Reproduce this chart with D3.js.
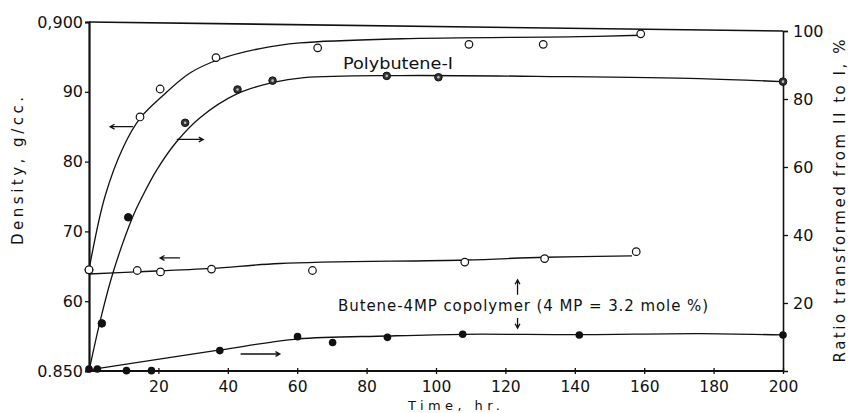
<!DOCTYPE html>
<meta charset="utf-8">
<style>
  body { margin: 0; background: #fff; }
  svg text { font-family: "DejaVu Sans", sans-serif; fill: #111; }
  .axis path, .axis line { stroke: #111; }
  .curve { fill: none; stroke: #111; stroke-width: 1.3px; }
</style>
<script src="https://d3js.org/d3.v7.min.js"></script>
<div id="chart"></div>
<script>
// ---- data ----
// Polybutene-I, density (open circles, left axis)
var pbDenTime = [0, 14.7, 20.5, 36.6, 65.9, 109.5, 130.9, 159];
var pbDensity = [0.8645, 0.8864, 0.8904, 0.8949, 0.8963, 0.8968, 0.8968, 0.8983];
// Polybutene-I, ratio II -> I (filled / half filled, right axis)
var pbRatTime = [3.7, 11.3, 27.7, 42.8, 52.9, 85.8, 100.7, 200];
var pbRatio   = [14.0, 45.2, 73.0, 82.8, 85.4, 86.8, 86.4, 85.1];
var pbRatKind = ["solid", "solid", "half", "half", "half", "half", "half", "half"];
// Butene-4MP copolymer, density (open circles, left axis)
var coDenTime = [0, 13.9, 20.6, 35.3, 64.4, 108.3, 131.3, 157.7];
var coDensity = [0.8645, 0.8644, 0.8642, 0.8646, 0.8644, 0.8656, 0.8661, 0.8671];
// Butene-4MP copolymer, ratio (filled circles, right axis)
var coRatTime = [0, 2.4, 10.8, 18, 37.7, 60.1, 70.2, 86, 107.7, 141.3, 200];
var coRatio   = [0.6, 0.6, 0.1, 0.1, 6.0, 10.1, 8.4, 9.9, 10.8, 10.6, 10.6];

// hand drawn fitted curves (knots)
var pbDenCurveT = [0, 4.6, 9.9, 14.7, 20.5, 29.1, 37.8, 49.3, 60.8, 90, 141.5, 159];
var pbDenCurveV = [0.8645, 0.8750, 0.8821, 0.8862, 0.8891, 0.8927, 0.8947, 0.8962, 0.8970, 0.8976, 0.8979, 0.8981];
var pbRatCurveT = [0, 3.4, 7.0, 12.7, 15.2, 19.5, 25.3, 32.0, 42.6, 53.1, 62, 89.6, 135.7, 176, 200];
var pbRatCurveV = [0, 15.5, 29.2, 45.6, 51.0, 59.1, 67.5, 74.5, 81.5, 84.9, 86.3, 86.9, 86.6, 86.0, 85.1];
var coDenCurveT = [0, 13.7, 35.4, 55, 108.4, 131.4, 156.5];
var coDenCurveV = [0.8639, 0.8642, 0.8647, 0.8654, 0.8659, 0.8663, 0.8665];
var coRatCurveT = [0, 37.8, 60, 86, 108, 141.5, 176, 200];
var coRatCurveV = [0.3, 6.2, 9.4, 10.3, 10.8, 10.7, 11.0, 10.6];

// ticks
var xTicks = [20, 40, 60, 80, 100, 120, 140, 160, 180, 200];
var leftTicks = [0.85, 0.86, 0.87, 0.88, 0.89, 0.90];
var leftLabels = ["0.850", "60", "70", "80", "90", "0,900"];
var rightTicks = [20, 40, 60, 80, 100];

var W = 848, H = 413;
var svg = d3.select("#chart").append("svg")
  .attr("width", W).attr("height", H);

var x = d3.scaleLinear().domain([0, 200]).range([89, 783]);
var yL = d3.scaleLinear().domain([0.85, 0.90]).range([371, 22]);
var yR = d3.scaleLinear().domain([0, 100]).range([371, 31]);

// ---- axes ----
var gx = svg.append("g").attr("class", "axis")
  .attr("transform", "translate(0," + yL(0.85) + ")")
  .call(d3.axisBottom(x).tickValues(xTicks).tickSizeOuter(0).tickSize(3).tickPadding(0));
gx.select(".domain").attr("stroke-width", 2).attr("d", "M" + x(0) + ",0H" + x(200));
gx.selectAll(".tick line").attr("y1", -3).attr("y2", 3).attr("stroke-width", 1.3);
gx.selectAll(".tick text").attr("y", 10).attr("font-size", 15.5);

var gl = svg.append("g").attr("class", "axis")
  .attr("transform", "translate(" + x(0) + ",0)")
  .call(d3.axisLeft(yL).tickValues(leftTicks).tickFormat(function (d, i) { return leftLabels[i]; })
    .tickSizeOuter(0).tickSize(4).tickPadding(2));
gl.select(".domain").attr("stroke-width", 2.2);
gl.selectAll(".tick line").attr("stroke-width", 1.3);
gl.selectAll(".tick text").attr("font-size", 16);

var gr = svg.append("g").attr("class", "axis")
  .attr("transform", "translate(" + x(200) + ",0)")
  .call(d3.axisRight(yR).tickValues(rightTicks).tickSizeOuter(0).tickSize(5).tickPadding(5));
gr.select(".domain").attr("stroke-width", 1.6);
gr.selectAll(".tick line").attr("stroke-width", 1.3);
gr.selectAll(".tick text").attr("font-size", 16);

// top frame line (slightly skewed in the scan)
svg.append("line")
  .attr("x1", x(0)).attr("y1", yL(0.90))
  .attr("x2", x(200)).attr("y2", yR(100))
  .attr("stroke", "#111").attr("stroke-width", 1.6);

// axis titles
svg.append("text")
  .attr("transform", "translate(23,171) rotate(-90)")
  .attr("text-anchor", "middle")
  .attr("font-size", 15)
  .attr("textLength", 148).attr("lengthAdjust", "spacing")
  .text("Density, g/cc.");

svg.append("text")
  .attr("transform", "translate(845,201) rotate(-90)")
  .attr("text-anchor", "middle")
  .attr("font-size", 15)
  .attr("textLength", 323).attr("lengthAdjust", "spacing")
  .text("Ratio transformed from II to I, %");

svg.append("text")
  .attr("x", 408).attr("y", 409.5)
  .attr("font-size", 13)
  .attr("textLength", 92).attr("lengthAdjust", "spacing")
  .text("Time, hr.");

// ---- curves ----
function zip(a, b) { return a.map(function (v, i) { return [v, b[i]]; }); }
var lineL = d3.line().x(function (d) { return x(d[0]); }).y(function (d) { return yL(d[1]); })
  .curve(d3.curveCatmullRom.alpha(0.5));
var lineR = d3.line().x(function (d) { return x(d[0]); }).y(function (d) { return yR(d[1]); })
  .curve(d3.curveCatmullRom.alpha(0.5));

svg.append("path").attr("class", "curve").attr("d", lineL(zip(pbDenCurveT, pbDenCurveV)));
svg.append("path").attr("class", "curve").attr("d", lineR(zip(pbRatCurveT, pbRatCurveV)));
svg.append("path").attr("class", "curve").attr("d", lineL(zip(coDenCurveT, coDenCurveV)));
svg.append("path").attr("class", "curve").attr("d", lineR(zip(coRatCurveT, coRatCurveV)));

// ---- points ----
function openDots(t, v) {
  svg.append("g").selectAll("circle").data(zip(t, v)).enter().append("circle")
    .attr("cx", function (d) { return x(d[0]); })
    .attr("cy", function (d) { return yL(d[1]); })
    .attr("r", 3.8).attr("fill", "#fff").attr("stroke", "#111").attr("stroke-width", 1.2);
}
openDots(pbDenTime, pbDensity);
openDots(coDenTime, coDensity);

svg.append("g").selectAll("circle").data(zip(coRatTime, coRatio)).enter().append("circle")
  .attr("cx", function (d) { return x(d[0]); })
  .attr("cy", function (d) { return yR(d[1]); })
  .attr("r", 3.8).attr("fill", "#111");

var pb = svg.append("g").selectAll("g").data(pbRatTime.map(function (t, i) {
  return { t: t, v: pbRatio[i], k: pbRatKind[i] };
})).enter().append("g")
  .attr("transform", function (d) { return "translate(" + x(d.t) + "," + yR(d.v) + ")"; });
pb.append("circle").attr("r", 3.8).attr("fill", function (d) { return d.k === "solid" ? "#111" : "#333"; })
  .attr("stroke", "#111").attr("stroke-width", 1);
pb.filter(function (d) { return d.k === "half"; }).append("circle")
  .attr("r", 1.3).attr("fill", "#bbb");

// ---- annotations ----
svg.append("text")
  .attr("x", 343).attr("y", 69)
  .attr("font-size", 16)
  .attr("textLength", 110).attr("lengthAdjust", "spacingAndGlyphs")
  .text("Polybutene-I");

svg.append("text")
  .attr("x", 338).attr("y", 311)
  .attr("font-size", 15)
  .attr("textLength", 370).attr("lengthAdjust", "spacing")
  .text("Butene-4MP copolymer (4 MP = 3.2 mole %)");

// arrows: [t from, t to, value, axis]
var hArrows = [
  [12.7, 6.1, 0.8850, "L"],
  [25.3, 32.9, 68.1, "R"],
  [26.2, 20.5, 0.8662, "L"],
  [43.7, 55, 5.0, "R"]
];
// vertical arrows: [t, ratio from, ratio to]
var vArrows = [
  [123.5, 22.4, 26.8],
  [123.5, 15.6, 12.6]
];
function arrow(x1, y1, x2, y2) {
  var a = Math.atan2(y2 - y1, x2 - x1), h = 5;
  var p = "M" + x1 + "," + y1 + "L" + x2 + "," + y2 +
    "M" + (x2 - h * Math.cos(a - 0.5)) + "," + (y2 - h * Math.sin(a - 0.5)) +
    "L" + x2 + "," + y2 +
    "L" + (x2 - h * Math.cos(a + 0.5)) + "," + (y2 - h * Math.sin(a + 0.5));
  svg.append("path").attr("d", p).attr("fill", "none").attr("stroke", "#111").attr("stroke-width", 1.3);
}
hArrows.forEach(function (d) {
  var sy = d[3] === "L" ? yL(d[2]) : yR(d[2]);
  arrow(x(d[0]), sy, x(d[1]), sy);
});
vArrows.forEach(function (d) {
  arrow(x(d[0]), yR(d[1]), x(d[0]), yR(d[2]));
});
</script>
